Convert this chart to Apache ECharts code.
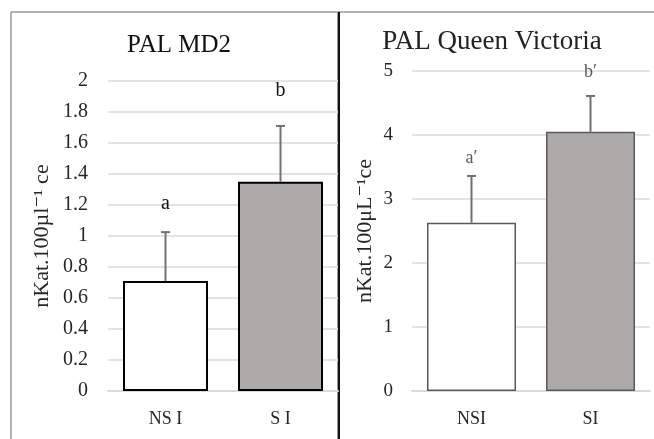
<!DOCTYPE html>
<html>
<head>
<meta charset="utf-8">
<script src="https://cdn.jsdelivr.net/npm/echarts@6/dist/echarts.min.js"></script>
<style>html,body{margin:0;padding:0;background:#fff;}#c{width:654px;height:439px;}</style>
</head>
<body>
<div id="c"></div>
<script>
// ---- data ----
const leftTitle = 'PAL MD2';
const leftCategories = ['NS I', 'S I'];
const leftValues = [0.71, 1.35];
const leftErrors = [0.315, 0.36];
const leftLetters = ['a', 'b'];
const leftLetterPos = [1.21, 1.94];
const leftTicks = [0, 0.2, 0.4, 0.6, 0.8, 1, 1.2, 1.4, 1.6, 1.8, 2];

const rightTitle = 'PAL Queen Victoria';
const rightCategories = ['NSI', 'SI'];
const rightValues = [2.63, 4.05];
const rightErrors = [0.73, 0.56];
const rightLetters = ['a\u2032', 'b\u2032'];
const rightLetterPos = [3.63, 4.98];
const rightTicks = [0, 1, 2, 3, 4, 5];

const yNameLeft = 'nKat.100\u00B5l\u207B\u00B9 ce';
const yNameRight = 'nKat.100\u03BCL\u207B\u00B9ce';

const FONT = '"Liberation Serif", "DejaVu Serif", serif';
const barColors = ['#ffffff', '#aeaaaa'];

const chart = echarts.init(document.getElementById('c'));

function errSeries(idx, vals, errs, letters, letterPos, color, letterColor, letterSize) {
  return {
    type: 'custom', xAxisIndex: idx, yAxisIndex: idx, z: 5,
    data: vals.map((v, i) => [i, v, v + errs[i], letterPos[i]]),
    renderItem: function (params, api) {
      const base = api.coord([api.value(0), api.value(1)]);
      const top = api.coord([api.value(0), api.value(2)]);
      const lp = api.coord([api.value(0), api.value(3)]);
      const cap = 4.5;
      return {
        type: 'group',
        children: [
          { type: 'line', shape: { x1: base[0], y1: base[1], x2: top[0], y2: top[1] }, style: { stroke: color, lineWidth: 2 } },
          { type: 'line', shape: { x1: top[0] - cap, y1: top[1], x2: top[0] + cap, y2: top[1] }, style: { stroke: color, lineWidth: 2 } },
          { type: 'text', x: lp[0], y: lp[1], style: { text: letters[params.dataIndex], fill: letterColor, font: letterSize + 'px ' + FONT, align: 'center', verticalAlign: 'middle' } }
        ]
      };
    }
  };
}

const axisLabelStyle = { color: '#262626', fontFamily: FONT };

chart.setOption({
  animation: false,
  backgroundColor: '#fff',
  title: [
    { text: leftTitle, left: 174, top: 28, textAlign: 'center', textStyle: { fontFamily: FONT, fontSize: 25, fontWeight: 'normal', color: '#111' } },
    { text: rightTitle, left: 487, top: 23, textAlign: 'center', textStyle: { fontFamily: FONT, fontSize: 27, fontWeight: 'normal', color: '#222' } }
  ],
  grid: [
    { left: 108, right: 316, top: 81, bottom: 48 },
    { left: 412, right: 4, top: 71, bottom: 48 }
  ],
  xAxis: [
    { type: 'category', gridIndex: 0, data: leftCategories, axisTick: { show: false },
      axisLine: { lineStyle: { color: '#d9d9d9', width: 2 } },
      axisLabel: Object.assign({ fontSize: 18, margin: 19 }, axisLabelStyle) },
    { type: 'category', gridIndex: 1, data: rightCategories, axisTick: { show: false },
      axisLine: { lineStyle: { color: '#d9d9d9', width: 2 } },
      axisLabel: Object.assign({ fontSize: 18, margin: 19 }, axisLabelStyle) }
  ],
  yAxis: [
    { type: 'value', gridIndex: 0, min: leftTicks[0], max: leftTicks[leftTicks.length - 1], interval: leftTicks[1] - leftTicks[0],
      axisLine: { show: false }, axisTick: { show: false },
      splitLine: { lineStyle: { color: '#e3e3e3', width: 2 } },
      axisLabel: Object.assign({ fontSize: 20, margin: 20 }, axisLabelStyle),
      name: yNameLeft, nameLocation: 'middle', nameGap: 55, nameRotate: 90,
      nameTextStyle: { fontFamily: FONT, fontSize: 22, color: '#262626' } },
    { type: 'value', gridIndex: 1, min: rightTicks[0], max: rightTicks[rightTicks.length - 1], interval: rightTicks[1] - rightTicks[0],
      axisLine: { show: false }, axisTick: { show: false },
      splitLine: { lineStyle: { color: '#e3e3e3', width: 2 } },
      axisLabel: Object.assign({ fontSize: 19, margin: 19 }, axisLabelStyle),
      name: yNameRight, nameLocation: 'middle', nameGap: 36, nameRotate: 90,
      nameTextStyle: { fontFamily: FONT, fontSize: 22, color: '#262626' } }
  ],
  series: [
    { type: 'bar', xAxisIndex: 0, yAxisIndex: 0, barWidth: 85,
      data: leftValues.map((v, i) => ({ value: v, itemStyle: { color: barColors[i], borderColor: '#000', borderWidth: 2 } })) },
    errSeries(0, leftValues, leftErrors, leftLetters, leftLetterPos, '#767171', '#111', 20),
    { type: 'bar', xAxisIndex: 1, yAxisIndex: 1, barWidth: 89,
      data: rightValues.map((v, i) => ({ value: v, itemStyle: { color: barColors[i], borderColor: '#595959', borderWidth: 1.5 } })) },
    errSeries(1, rightValues, rightErrors, rightLetters, rightLetterPos, '#6f6f6f', '#595959', 18)
  ],
  graphic: [
    { type: 'line', shape: { x1: 11, y1: 12, x2: 654, y2: 12 }, style: { stroke: '#9a9a9a', lineWidth: 1.5 } },
    { type: 'line', shape: { x1: 11, y1: 12, x2: 11, y2: 439 }, style: { stroke: '#9a9a9a', lineWidth: 1.5 } },
    { type: 'line', shape: { x1: 337.5, y1: 12, x2: 337.5, y2: 439 }, style: { stroke: '#9a9a9a', lineWidth: 1 } },
    { type: 'line', shape: { x1: 339, y1: 12, x2: 339, y2: 439 }, style: { stroke: '#111', lineWidth: 2 } }
  ]
});
</script>
</body>
</html>
